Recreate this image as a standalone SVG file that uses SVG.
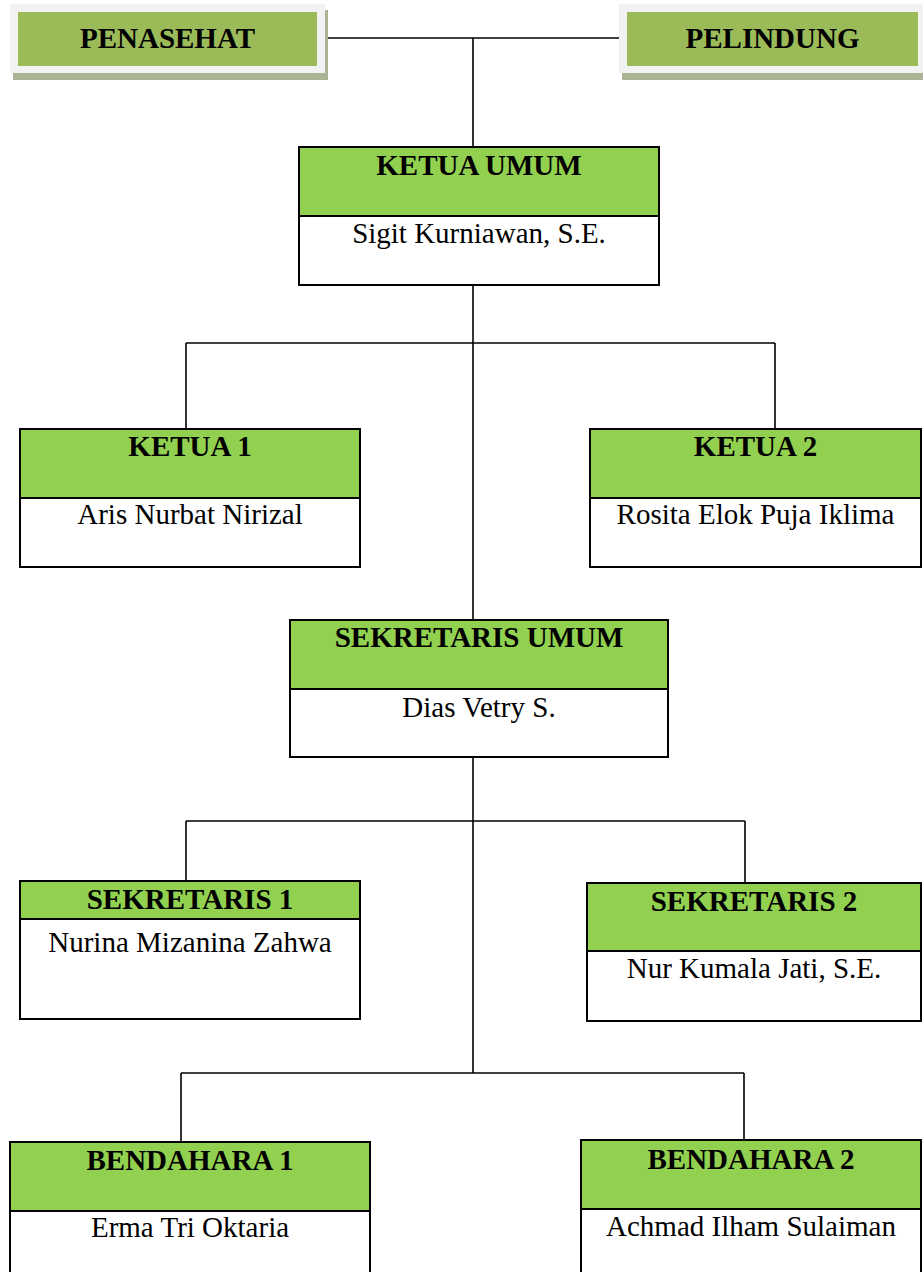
<svg xmlns="http://www.w3.org/2000/svg" width="923" height="1272" viewBox="0 0 923 1272">
<style>
.bg{fill:#ffffff}
.head{fill:#92d050;stroke:#000;stroke-width:2}
.body{fill:#ffffff;stroke:#000;stroke-width:2}
.frame{fill:#f2f2f2}
.shadow{fill:#aab394}
.tgreen{fill:#9bbb59}
.title{font-family:"Liberation Serif","Times New Roman",serif;font-weight:bold;font-size:29px;text-anchor:middle;fill:#000}
.name{font-family:"Liberation Serif","Times New Roman",serif;font-size:29px;text-anchor:middle;fill:#000}
.conn{fill:none;stroke:#000;stroke-width:1.6}
</style>
<rect class="bg" x="0" y="0" width="923" height="1272"/>
<g id="connectors">
<path class="conn" d="M327,38 H620 M473,38 V147"/>
<path class="conn" d="M473,285 V620"/>
<path class="conn" d="M186,343 H775 M186,343 V429 M775,343 V429"/>
<path class="conn" d="M473,757 V1073"/>
<path class="conn" d="M186,821 H745 M186,821 V881 M745,821 V883"/>
<path class="conn" d="M181,1073 H744 M181,1073 V1142 M744,1073 V1140"/>
</g>
<g id="penasehat">
<rect class="shadow" x="13" y="10" width="315" height="70"/>
<rect class="frame" x="10" y="4" width="315" height="69"/>
<rect class="tgreen" x="18" y="12" width="299" height="54"/>
<text class="title" x="167.5" y="48">PENASEHAT</text>
</g>
<g id="pelindung">
<rect class="shadow" x="622" y="10" width="310" height="70"/>
<rect class="frame" x="619" y="4" width="310" height="69"/>
<rect class="tgreen" x="627" y="12" width="291" height="54"/>
<text class="title" x="772.5" y="48">PELINDUNG</text>
</g>
<g id="ketua-umum">
<rect class="body" x="299" y="147" width="360" height="138"/>
<rect class="head" x="299" y="147" width="360" height="69"/>
<text class="title" x="479" y="175">KETUA UMUM</text>
<text class="name" x="479" y="243">Sigit Kurniawan, S.E.</text>
</g>
<g id="ketua-1">
<rect class="body" x="20" y="429" width="340" height="138"/>
<rect class="head" x="20" y="429" width="340" height="69"/>
<text class="title" x="190" y="456">KETUA 1</text>
<text class="name" x="190" y="524">Aris Nurbat Nirizal</text>
</g>
<g id="ketua-2">
<rect class="body" x="590" y="429" width="331" height="138"/>
<rect class="head" x="590" y="429" width="331" height="69"/>
<text class="title" x="755.5" y="456">KETUA 2</text>
<text class="name" x="755.5" y="524">Rosita Elok Puja Iklima</text>
</g>
<g id="sekretaris-umum">
<rect class="body" x="290" y="620" width="378" height="137"/>
<rect class="head" x="290" y="620" width="378" height="69"/>
<text class="title" x="479" y="647">SEKRETARIS UMUM</text>
<text class="name" x="479" y="717">Dias Vetry S.</text>
</g>
<g id="sekretaris-1">
<rect class="body" x="20" y="881" width="340" height="138"/>
<rect class="head" x="20" y="881" width="340" height="38"/>
<text class="title" x="190" y="909">SEKRETARIS 1</text>
<text class="name" x="190" y="952">Nurina Mizanina Zahwa</text>
</g>
<g id="sekretaris-2">
<rect class="body" x="587" y="883" width="334" height="138"/>
<rect class="head" x="587" y="883" width="334" height="68"/>
<text class="title" x="754" y="911">SEKRETARIS 2</text>
<text class="name" x="754" y="978">Nur Kumala Jati, S.E.</text>
</g>
<g id="bendahara-1">
<rect class="body" x="10" y="1142" width="360" height="140"/>
<rect class="head" x="10" y="1142" width="360" height="69"/>
<text class="title" x="190" y="1170">BENDAHARA 1</text>
<text class="name" x="190" y="1237">Erma Tri Oktaria</text>
</g>
<g id="bendahara-2">
<rect class="body" x="581" y="1140" width="340" height="142"/>
<rect class="head" x="581" y="1140" width="340" height="69"/>
<text class="title" x="751" y="1169">BENDAHARA 2</text>
<text class="name" x="751" y="1236">Achmad Ilham Sulaiman</text>
</g>
</svg>
